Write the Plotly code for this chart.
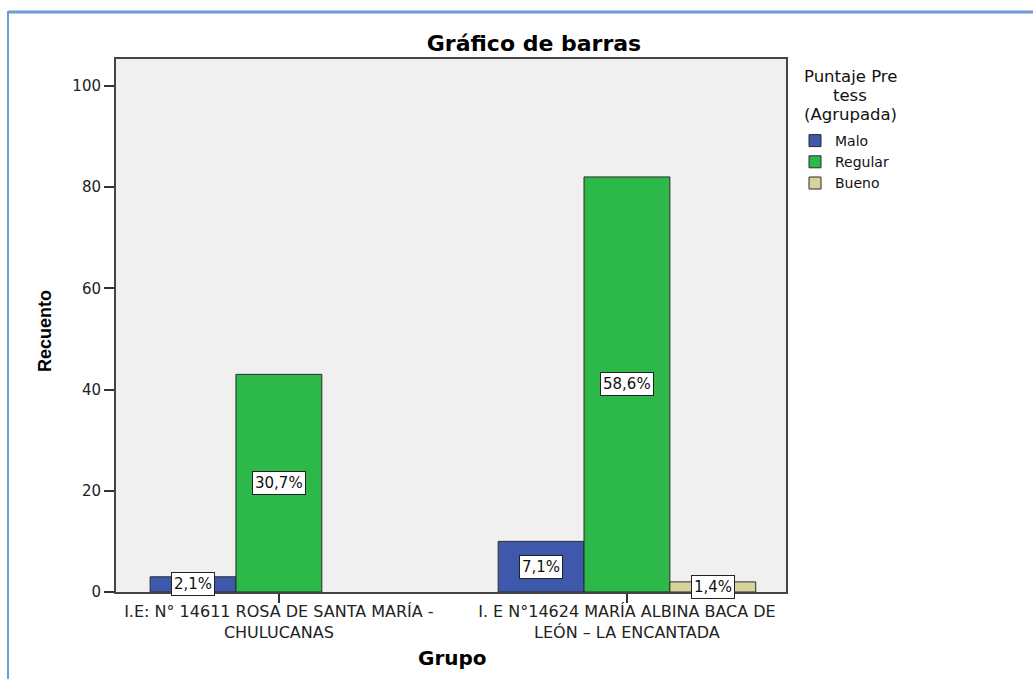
import plotly.graph_objects as go

categories = ["I.E: N° 14611 ROSA DE SANTA MARÍA -<br>CHULUCANAS",
              "I. E N°14624 MARÍA ALBINA BACA DE<br>LEÓN – LA ENCANTADA"]
series_names = ["Malo", "Regular", "Bueno"]
malo = [3, 10]
regular = [43, 82]
bueno = [None, 2]
pct_malo = ["2,1%", "7,1%"]
pct_regular = ["30,7%", "58,6%"]
pct_bueno = ["", "1,4%"]
colors = ["#3e58ac", "#2db84a", "#d8d29c"]
y_ticks = [0, 20, 40, 60, 80, 100]
legend_title_lines = ["Puntaje Pre", "tess", "(Agrupada)"]

W, H = 1033, 679
L, R, T, B = 116, 786, 59, 592
WIDE = "DejaVu Sans, Verdana, sans-serif"
ARIAL = "Liberation Sans, Arial, sans-serif"

values = [malo, regular, bueno]
pcts = [pct_malo, pct_regular, pct_bueno]
bargap = 0.26
x_range = [-0.468, 1.457]

fig = go.Figure()
for name, vals, col in zip(series_names, values, colors):
    fig.add_trace(go.Bar(name=name, x=list(range(len(categories))), y=vals,
                         marker=dict(color=col, line=dict(color="#2b2b2b", width=1))))

n = len(series_names)
bw = (1 - bargap) / n
anns = []
for i, (vals, labs) in enumerate(zip(values, pcts)):
    for j, (v, lab) in enumerate(zip(vals, labs)):
        if not lab or v is None:
            continue
        anns.append(dict(x=j + (i - (n - 1) / 2) * bw, y=v / 2, xref="x", yref="y",
                         text=lab, showarrow=False, bgcolor="white",
                         bordercolor="#222", borderwidth=1, borderpad=2,
                         font=dict(family=WIDE, size=15, color="#111")))

pw = R - L
ph = B - T
def px_x(p):
    return (p - L) / pw
def px_y(p):
    return (B - p) / ph

for line, yy in zip(legend_title_lines, [76, 95.5, 115]):
    anns.append(dict(x=px_x(850), y=px_y(yy), xref="paper", yref="paper",
                     xanchor="center", yanchor="middle",
                     text=line, showarrow=False,
                     font=dict(family=WIDE, size=16.5, color="#111")))

# axis titles
anns.append(dict(x=px_x(452), y=px_y(658), xref="paper", yref="paper",
                 xanchor="center", yanchor="middle", showarrow=False,
                 text="<b>Grupo</b>", font=dict(family=WIDE, size=20, color="black")))
anns.append(dict(x=px_x(45), y=px_y(331), xref="paper", yref="paper",
                 xanchor="center", yanchor="middle", showarrow=False, textangle=-90,
                 text="<b>Recuento</b>", font=dict(family=ARIAL, size=18, color="black")))

shapes = [
    dict(type="line", xref="paper", yref="paper", x0=px_x(8), x1=px_x(1040),
         y0=px_y(12), y1=px_y(12), line=dict(color="#6c9bd8", width=3)),
    dict(type="line", xref="paper", yref="paper", x0=px_x(8), x1=px_x(8),
         y0=px_y(11), y1=px_y(690), line=dict(color="#6c9bd8", width=2)),
]

fig.update_layout(
    width=W, height=H,
    margin=dict(l=L, r=W - R, t=T, b=H - B, autoexpand=False),
    paper_bgcolor="white", plot_bgcolor="#f0f0f0",
    barmode="group", bargap=bargap, bargroupgap=0,
    title=dict(text="<b>Gráfico de barras</b>", x=534 / W, xanchor="center",
               y=1 - 43 / H, yanchor="middle",
               font=dict(family=WIDE, size=22, color="black")),
    font=dict(family=WIDE, size=14, color="#222"),
    xaxis=dict(range=x_range, tickmode="array", tickvals=list(range(len(categories))),
               ticktext=categories, ticks="outside", ticklen=9, tickwidth=1.5,
               tickcolor="#333", showline=True, linecolor="#444", linewidth=2,
               mirror=True, showgrid=False, zeroline=False, automargin=False,
               ticklabelstandoff=-5,
               tickfont=dict(family=WIDE, size=16, color="#222")),
    yaxis=dict(range=[0, 105.3], tickmode="array", tickvals=y_ticks, ticks="outside",
               ticklen=10, tickwidth=1.5, tickcolor="#333", showline=True,
               linecolor="#444", linewidth=2, mirror=True, showgrid=False,
               zeroline=False, automargin=False,
               tickfont=dict(family=WIDE, size=15, color="#222")),
    legend=dict(x=px_x(795), y=px_y(125), xanchor="left", yanchor="top",
                bgcolor="rgba(0,0,0,0)", font=dict(family=WIDE, size=14, color="#111"),
                tracegroupgap=0, itemwidth=30),
    annotations=anns, shapes=shapes,
    showlegend=True,
)

fig.write_html("out.html", config={"displayModeBar": False},
               post_script="document.body.style.margin='0';")
